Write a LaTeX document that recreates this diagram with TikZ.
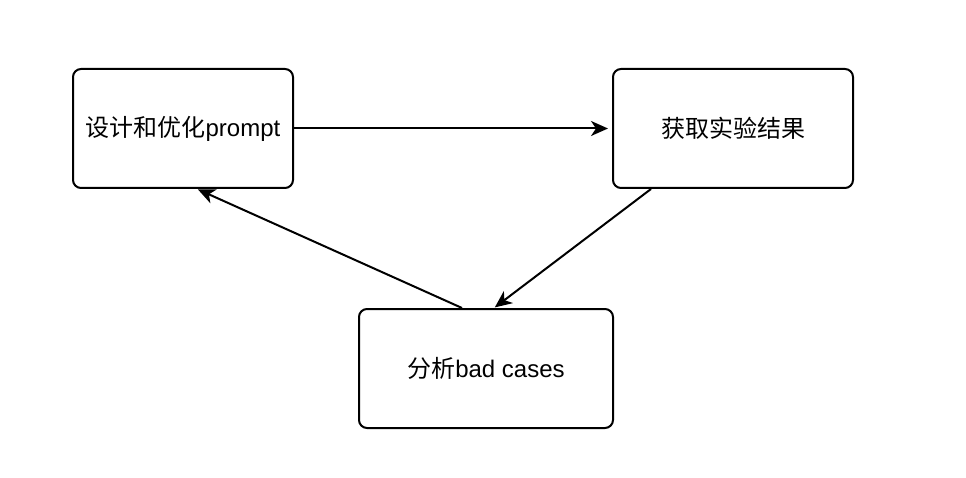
\documentclass[tikz,border=0pt]{standalone}
\usepackage{fontspec}
\setmainfont{Liberation Sans}
\newfontfamily\cjk{Noto Sans CJK SC}
\usetikzlibrary{arrows.meta}
\begin{document}
\begin{tikzpicture}[x=1pt,y=-1pt,
  box/.style={draw=black, line width=2pt, rounded corners=8pt, fill=white, inner sep=0pt, font=\fontsize{24}{28}\selectfont},
  conn/.style={line width=2pt, -{Stealth[length=17pt,width=15pt,inset=5pt]}}]
\fill[white] (0,0) rectangle (966,478);
\useasboundingbox (0,0) rectangle (966,478);
\node[box, minimum width=220pt, minimum height=119pt] (A) at (183,128.5) {{\cjk 设计和优化}prompt};
\node[box, minimum width=240pt, minimum height=119pt] (B) at (733,128.5) {{\cjk 获取实验结果}};
\node[box, minimum width=254pt, minimum height=119pt] (C) at (486,368.5) {{\cjk 分析}bad cases};
\draw[conn, shorten >=4pt] (A.east) -- (B.west);
\draw[conn, shorten >=1pt] ([xshift=-82pt]B.south) -- ([xshift=8pt]C.north);
\draw[conn, shorten >=1pt] ([xshift=-24pt]C.north) -- ([xshift=14pt]A.south);
\end{tikzpicture}
\end{document}
